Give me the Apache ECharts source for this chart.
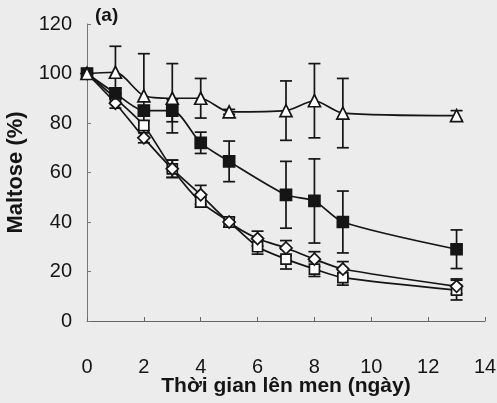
<!DOCTYPE html>
<html>
<head>
<meta charset="utf-8">
<script src="https://cdn.jsdelivr.net/npm/echarts@6/dist/echarts.min.js"></script>
<style>
html,body{margin:0;padding:0;background:#ececec;}
#c{width:497px;height:403px;}
</style>
</head>
<body>
<div id="c"></div>
<script>
// Data
const triX = [0, 1, 2, 3, 4, 5, 7, 8, 9, 13];
const triY = [100, 100.5, 91, 90, 90, 84.5, 85, 89, 84, 83];
const triErr = [0, 10.5, 17, 14, 8, 1, 12, 15, 14, 2];

const fsqX = [0, 1, 2, 3, 4, 5, 7, 8, 9, 13];
const fsqY = [100, 92, 85, 85, 72, 64.5, 51, 48.5, 40, 29];
const fsqErr = [0, 2, 2, 4.5, 4.3, 8.2, 13.5, 17, 12.5, 7.8];

const diaX = [0, 1, 2, 3, 4, 5, 6, 7, 8, 9, 13];
const diaY = [100, 88, 74, 61.5, 51, 40, 33.3, 29.5, 25, 21, 14];
const diaErr = [0, 2, 2, 3.5, 3.8, 2, 3, 3, 3, 3, 3];

const osqX = [0, 1, 2, 3, 4, 5, 6, 7, 8, 9, 13];
const osqY = [100, 90, 79, 61.5, 48, 40, 30, 25, 21, 17.5, 12.5];
const osqErr = [0, 2, 2, 3.5, 2, 2, 3, 4, 3, 3, 4];

const xTicks = [0, 2, 4, 6, 8, 10, 12, 14];
const yTicks = [0, 20, 40, 60, 80, 100, 120];

const INK = '#151515';
const FONT = 'Liberation Sans, Arial, sans-serif';
const chart = echarts.init(document.getElementById('c'));

function pairs(xs, ys) { return xs.map((x, i) => [x, ys[i]]); }
function errData(xs, ys, es) { return xs.map((x, i) => [x, ys[i], es[i]]); }

function errSeries(xs, ys, es) {
  return {
    type: 'custom',
    z: 1,
    silent: true,
    data: errData(xs, ys, es),
    renderItem: function (params, api) {
      const x = api.value(0), y = api.value(1), e = api.value(2);
      if (!e) return null;
      const top = api.coord([x, y + e]);
      const bot = api.coord([x, y - e]);
      const w = 6;
      const st = { stroke: INK, lineWidth: 1.7 };
      return {
        type: 'group',
        children: [
          { type: 'line', shape: { x1: top[0], y1: top[1], x2: bot[0], y2: bot[1] }, style: st },
          { type: 'line', shape: { x1: top[0] - w, y1: top[1], x2: top[0] + w, y2: top[1] }, style: st },
          { type: 'line', shape: { x1: bot[0] - w, y1: bot[1], x2: bot[0] + w, y2: bot[1] }, style: st }
        ]
      };
    }
  };
}

function lineSeries(xs, ys, symbol, size, filled) {
  return {
    type: 'line',
    z: 3,
    smooth: 0.25,
    data: pairs(xs, ys),
    symbol: symbol,
    symbolSize: size,
    showAllSymbol: true,
    lineStyle: { color: INK, width: 1.7 },
    itemStyle: { color: filled ? INK : '#ffffff', borderColor: INK, borderWidth: 1.7 },
    emphasis: { disabled: true }
  };
}

const option = {
  backgroundColor: '#ececec',
  animation: false,
  grid: { left: 87, right: 12, top: 24, bottom: 82, outerBoundsMode: 'none', containLabel: false },
  xAxis: {
    type: 'value',
    min: 0, max: 14, interval: 2,
    name: 'Thời gian lên men (ngày)',
    nameLocation: 'middle',
    nameGap: 55,
    nameMoveOverlap: false,
    nameTextStyle: { fontFamily: FONT, fontSize: 21, fontWeight: 'bold', color: INK },
    axisLine: { lineStyle: { color: '#666', width: 1 } },
    axisTick: { inside: true, length: 4, lineStyle: { color: '#666' } },
    splitLine: { show: false },
    axisLabel: {
      margin: 36, fontSize: 20, color: INK, fontFamily: FONT,
      formatter: v => xTicks.includes(v) ? String(v) : ''
    }
  },
  yAxis: {
    type: 'value',
    min: 0, max: 120, interval: 20,
    name: 'Maltose (%)',
    nameLocation: 'middle',
    nameGap: 60,
    nameMoveOverlap: false,
    nameRotate: 90,
    nameTextStyle: { fontFamily: FONT, fontSize: 22, fontWeight: 'bold', color: INK },
    axisLine: { show: true, lineStyle: { color: '#777', width: 1 } },
    axisTick: { show: true, inside: true, length: 4, lineStyle: { color: '#777' } },
    splitLine: { show: false },
    axisLabel: {
      margin: 15, fontSize: 20, color: INK, fontFamily: FONT,
      formatter: v => yTicks.includes(v) ? String(v) : ''
    }
  },
  graphic: [{
    type: 'text', left: 95, top: 6,
    style: { text: '(a)', fontFamily: FONT, fontSize: 19, fontWeight: 'bold', fill: INK }
  }],
  series: [
    errSeries(triX, triY, triErr),
    errSeries(fsqX, fsqY, fsqErr),
    errSeries(diaX, diaY, diaErr),
    errSeries(osqX, osqY, osqErr),
    lineSeries(osqX, osqY, 'rect', 10, false),
    lineSeries(diaX, diaY, 'diamond', 12, false),
    lineSeries(fsqX, fsqY, 'rect', 11, true),
    lineSeries(triX, triY, 'triangle', 12, false)
  ]
};
chart.setOption(option);
</script>
</body>
</html>
